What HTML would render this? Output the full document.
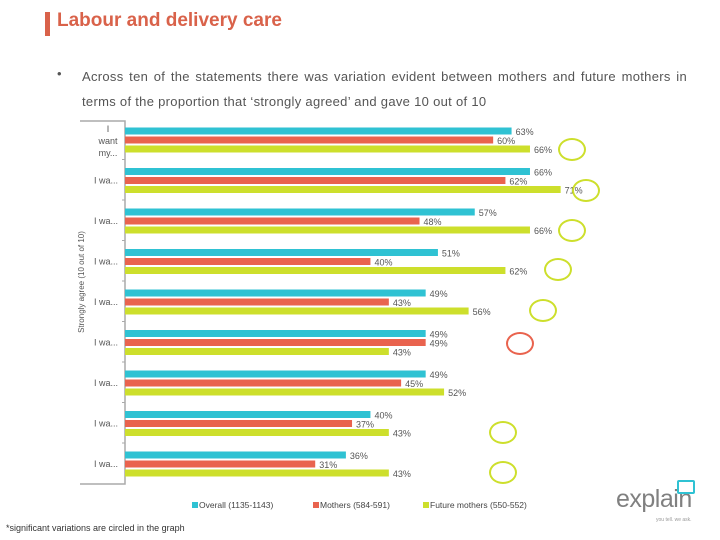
<!DOCTYPE html>
<html><head><meta charset="utf-8"><style>
body{margin:0;background:#fff;font-family:"Liberation Sans",sans-serif;}
#wrap{position:relative;width:720px;height:540px;overflow:hidden;}
.circ{position:absolute;width:24px;height:19px;border:2.5px solid #cddf2c;border-radius:50%;}
</style></head><body>
<div id="wrap">
<div style="position:absolute;left:45px;top:12px;width:5px;height:24px;background:#d9624a"></div>
<div style="position:absolute;left:57px;top:10px;font-size:19px;font-weight:bold;color:#d9624a">Labour and delivery care</div>
<div style="position:absolute;left:57px;top:66px;font-size:13px;color:#555">•</div>
<div style="position:absolute;left:82px;top:64px;width:605px;font-size:13px;line-height:25px;color:#555;text-align:justify;letter-spacing:0.3px;text-align-last:left">Across ten of the statements there was variation evident between mothers and future mothers in terms of the proportion that ‘strongly agreed’ and gave 10 out of 10</div>
<svg id="chart" width="720" height="540" style="position:absolute;left:0;top:0"></svg>
<div class="circ" style="left:558px;top:138px"></div>
<div class="circ" style="left:572px;top:179px"></div>
<div class="circ" style="left:558px;top:219px"></div>
<div class="circ" style="left:544px;top:258px"></div>
<div class="circ" style="left:529px;top:299px"></div>
<div class="circ" style="left:506px;top:332px;border-color:#e9634e"></div>
<div class="circ" style="left:489px;top:421px"></div>
<div class="circ" style="left:489px;top:461px"></div>
<div style="position:absolute;left:6px;top:523px;font-size:9px;color:#333">*significant variations are circled in the graph</div>
<div style="position:absolute;left:616px;top:485px;font-size:25px;color:#808080;letter-spacing:-0.5px">explain</div>
<div style="position:absolute;left:677px;top:480px;width:14px;height:10px;border:2.5px solid #2fc2d3;border-radius:2px"></div>
<div style="position:absolute;left:656px;top:517px;font-size:5px;color:#999">you tell. we ask.</div>
</div>
<script>
const categories=["I want my...","I wa...","I wa...","I wa...","I wa...","I wa...","I wa...","I wa...","I wa..."];
const overall=[63,66,57,51,49,49,49,40,36];
const mothers=[60,62,48,40,43,49,45,37,31];
const future=[66,71,66,62,56,43,52,43,43];
const seriesNames=["Overall (1135-1143)","Mothers (584-591)","Future mothers (550-552)"];
const NS="http://www.w3.org/2000/svg";
const svg=document.getElementById('chart');
const colors=["#2fc2d3","#e9634e","#cddf2c"];
const x0=125,pxPer=6.136,gTop=131,gStep=40.5,bStep=9,bh=7;
const xs=v=>x0+v*pxPer;
const yb=(g,s)=>gTop+g*gStep+s*bStep;
function mk(t,a){const e=document.createElementNS(NS,t);for(const k in a)e.setAttribute(k,a[k]);svg.appendChild(e);return e;}
let ax=mk('path',{d:`M80,121 H125 V484 H80`,fill:'none',stroke:'#aaa','stroke-width':1.5});

const series=[overall,mothers,future];
const keys=["overall","mothers","future"];
categories.forEach((c,g)=>{
  if(g>0){let t=mk('line',{x1:122,x2:125,y1:yb(g,0)-12,y2:yb(g,0)-12,stroke:'#aaa'});
  }
  if(g===0){["I","want","my..."].forEach((w,i)=>{let l=mk('text',{x:108,y:yb(0,0)+1+i*12,'text-anchor':'middle','font-size':9,fill:'#555'});l.textContent=w;
  });}
  else{let l=mk('text',{x:118,y:yb(g,1)+3,'text-anchor':'end','font-size':9,fill:'#555'});l.textContent=c;
  }
  series.forEach((arr,s)=>{
    let r=mk('rect',{x:x0,y:yb(g,s)-bh/2,width:xs(arr[g])-x0,height:bh,fill:colors[s]});
    
    let v=mk('text',{x:xs(arr[g])+4,y:yb(g,s)+4,'font-size':9,fill:'#555'});v.textContent=arr[g]+'%';
    
  });
});
let yt=mk('text',{x:0,y:0,transform:'translate(84,282) rotate(-90)','text-anchor':'middle','font-size':8,fill:'#555'});
yt.textContent='Strongly agree (10 out of 10)';

const lx=[192,313,423];
seriesNames.forEach((n,s)=>{
  let r=mk('rect',{x:lx[s],y:502,width:6,height:6,fill:colors[s]});
  
  let t=mk('text',{x:lx[s]+7,y:508,'font-size':8.5,fill:'#444'});t.textContent=n;
  
});
</script>
</body></html>
